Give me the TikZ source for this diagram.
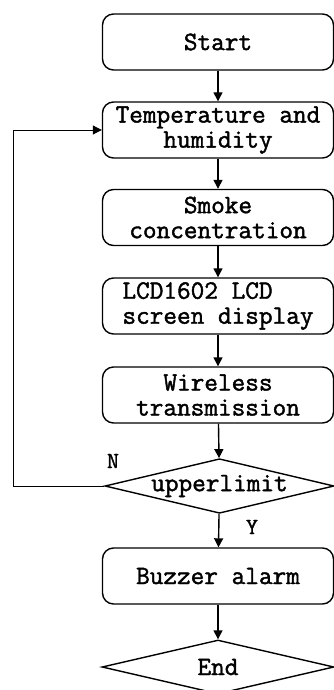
\documentclass[tikz,border=0pt]{standalone}
\usepackage{fontspec}
\newfontfamily\boxfont[FakeBold=1.6]{Latin Modern Mono}
\usetikzlibrary{arrows.meta,shapes.geometric}
\begin{document}
\begin{tikzpicture}[x=1pt,y=-1pt,
  every node/.style={font=\fontsize{26.5}{25}\selectfont\boxfont},
  procbox/.style={draw,line width=1.4pt,rounded corners=11pt,minimum width=231pt,minimum height=56pt,inner sep=0pt,align=center},
  decbox/.style={draw,line width=1.4pt,diamond,shape aspect=4.2,inner sep=0pt},
  flow/.style={line width=1.4pt,-{Triangle[length=9pt,width=9pt]}},
  lbl/.style={font=\fontsize{23}{22}\selectfont\boxfont,inner sep=0pt}]
\useasboundingbox (0,0) rectangle (334,690);
\node[procbox] (start) at (218,42) {Start};
\node[procbox] (temp) at (218,130) {Temperature and\\humidity};
\node[procbox] (smoke) at (218,217.5) {Smoke\\concentration};
\node[procbox,align=left] (lcd) at (218,306) {LCD1602 LCD\\screen display};
\node[procbox] (wire) at (218,395) {Wireless\\transmission};
\node[decbox,minimum width=229pt,minimum height=54pt] (upper) at (219.5,486) {upperlimit};
\node[procbox] (buzz) at (218,576) {Buzzer alarm};
\node[decbox,minimum width=232pt,minimum height=54pt] (end) at (218,667) {End};
\coordinate (corner) at (13,486);
\draw[flow] (start) -- (temp);
\draw[flow] (temp) -- (smoke);
\draw[flow] (smoke) -- (lcd);
\draw[flow] (lcd) -- (wire);
\draw[flow] (wire) -- (upper);
\draw[flow] (upper) -- (buzz);
\draw[flow] (buzz) -- (end);
\draw[flow,line width=1pt] (upper.west) -- (corner) |- (temp.west);
\node[lbl] (n) at (113,461) {N};
\node[lbl] (y) at (252,527) {Y};
\end{tikzpicture}
\end{document}
